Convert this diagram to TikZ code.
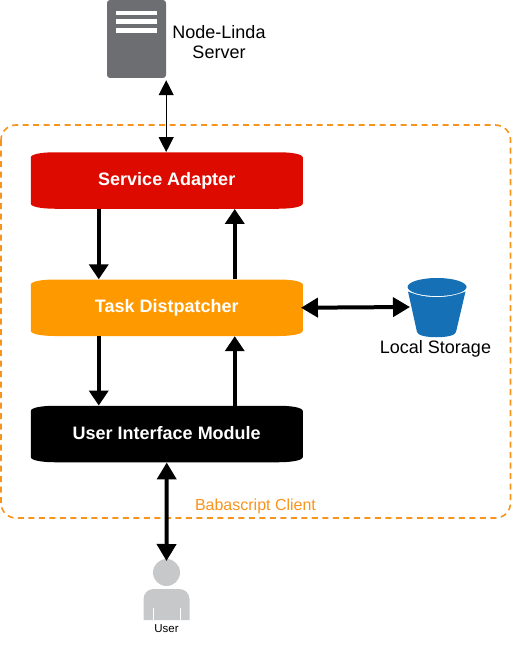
\documentclass[tikz,border=0pt]{standalone}
\usepackage{fontspec}
\setmainfont{Liberation Sans}
\definecolor{adaptred}{RGB}{221, 10, 0}
\definecolor{taskorange}{RGB}{255, 153, 0}
\definecolor{frameorange}{RGB}{247, 148, 30}
\definecolor{servergray}{RGB}{109, 110, 113}
\definecolor{bucketblue}{RGB}{21, 112, 181}
\definecolor{usergray}{RGB}{199, 200, 202}
\usetikzlibrary{arrows.meta, positioning}
\newcommand{\modbody}[3]{
  \fill[#3] (#1-136, #2-23) .. controls (#1-136, #2-26.5) and (#1-124, #2-28.25) .. (#1-112, #2-28.25)
    -- (#1+112, #2-28.25) .. controls (#1+124, #2-28.25) and (#1+136, #2-26.5) .. (#1+136, #2-23)
    -- (#1+136, #2+23) .. controls (#1+136, #2+26.5) and (#1+124, #2+28.25) .. (#1+112, #2+28.25)
    -- (#1-112, #2+28.25) .. controls (#1-124, #2+28.25) and (#1-136, #2+26.5) .. (#1-136, #2+23) -- cycle;
}
\tikzset{
  modbox/.style={minimum width=272pt, minimum height=56.5pt, text height=13pt, text depth=3pt, text=white, font=\fontsize{18}{21}\selectfont\bfseries},
  thinlink/.style={line width=1.2pt, {Triangle[length=15pt,width=15pt]}-{Triangle[length=15pt,width=15pt]}},
  boldlink/.style={line width=4pt, -{Triangle[length=15pt,width=19pt]}},
  bothlink/.style={line width=4pt, {Triangle[length=17pt,width=19pt]}-{Triangle[length=17pt,width=19pt]}}
}
\begin{document}
\begin{tikzpicture}[x=1pt, y=-1pt]
  \useasboundingbox (0, 0) rectangle (511, 650);

  % Client frame
  \draw[frameorange, line width=1.6pt, dash pattern=on 6pt off 4.5pt, rounded corners=15pt] (1, 125) rectangle (510.5, 518);
  \node[text=frameorange, font=\fontsize{16}{19}\selectfont] (client) at (255.5, 506) {Babascript Client};

  % Server
  \node[fill=servergray, rounded corners=3pt, minimum width=59pt, minimum height=78pt, inner sep=0pt] (server) at (136.5, 39) {};
  \foreach \y in {13, 21.5, 30.5} {
    \fill[white] (116, \y-2.3) rectangle (157, \y+2.3);
  }
  \node[font=\fontsize{18}{20}\selectfont, align=center] (serverlabel) at (219, 42) {Node-Linda\\Server};

  % Modules
  \modbody{166.75}{180.5}{adaptred}
  \modbody{166.75}{307.75}{taskorange}
  \modbody{166.75}{434}{black}
  \node[modbox] (adapter) at (166.75, 180.5) {Service Adapter};
  \node[modbox] (task) at (166.75, 307.75) {Task Distpatcher};
  \node[modbox] (ui) at (166.75, 434) {User Interface Module};

  % Storage
  \fill[bucketblue] (407.5, 287) arc[x radius=29.5pt, y radius=9pt, start angle=180, end angle=360] arc[x radius=29.5pt, y radius=9pt, start angle=0, end angle=180];
  \fill[bucketblue] (408, 291.5) .. controls (425, 299) and (448, 299) .. (465.5, 291.5) -- (456, 332) .. controls (455, 339) and (418, 339) .. (417, 332) -- cycle;
  \coordinate (bucket) at (410, 307);
  \node[font=\fontsize{18}{20}\selectfont] (storage) at (435.5, 349) {Local Storage};

  % User
  \fill[usergray] (166.5, 572.5) circle[radius=13.5pt];
  \fill[usergray] (143.5, 620) -- (143.5, 599) arc[radius=10pt, start angle=180, end angle=90] -- (179.5, 589) arc[radius=10pt, start angle=90, end angle=0] -- (189.5, 620) -- cycle;
  \fill[white] (152.5, 608) rectangle (153.8, 620);
  \fill[white] (179.5, 608) rectangle (180.8, 620);
  \coordinate (head) at (166.5, 561);
  \node[font=\fontsize{11.5}{13}\selectfont] (user) at (166.5, 628.5) {User};

  % Links
  \draw[thinlink] (server.south east) ++(0, 2) coordinate (srv) -- (srv |- adapter.north);
  \draw[boldlink] ([xshift=-68pt]adapter.south) -- ([xshift=-68pt]task.north);
  \draw[boldlink] ([xshift=68pt]task.north) -- ([xshift=68pt]adapter.south);
  \draw[boldlink] ([xshift=-68pt]task.south) -- ([xshift=-68pt]ui.north);
  \draw[boldlink] ([xshift=68pt]ui.north) -- ([xshift=68pt]task.south);
  \draw[bothlink] ([xshift=-2pt]task.east) -- (bucket);
  \draw[bothlink] (ui.south) -- (head);
\end{tikzpicture}
\end{document}
